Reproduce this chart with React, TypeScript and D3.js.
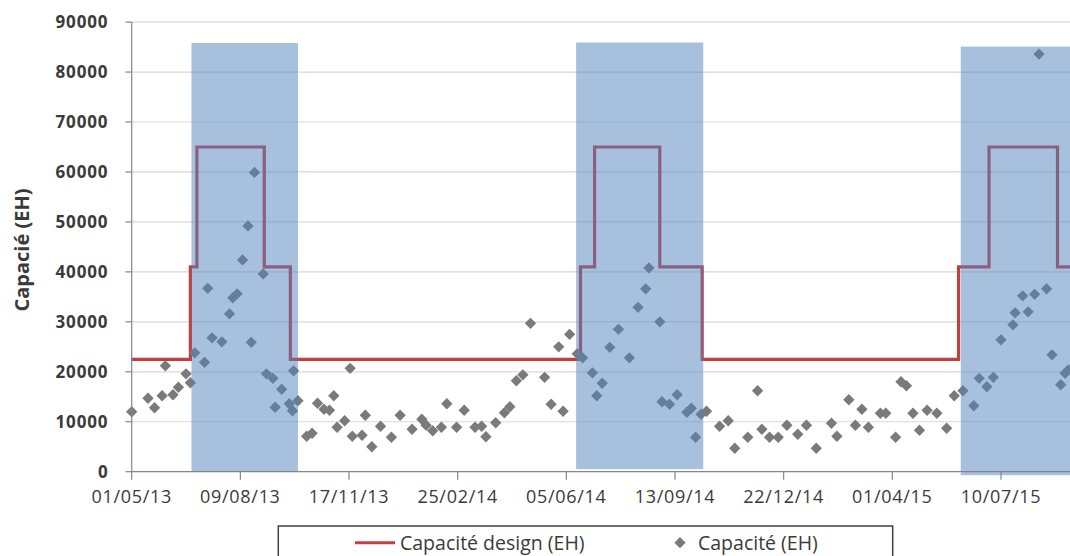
import React from "react";
import * as d3 from "d3";

// Scatter: "Capacité (EH)"
const scatterDates = [
  "2013-05-01","2013-05-16","2013-05-22","2013-05-29","2013-06-01","2013-06-08","2013-06-13","2013-06-20","2013-06-24",
  "2013-06-28","2013-07-07","2013-07-10","2013-07-14","2013-07-23","2013-07-30","2013-08-02","2013-08-06","2013-08-11",
  "2013-08-16","2013-08-22","2013-08-19","2013-08-30","2013-09-02","2013-09-08","2013-09-16","2013-09-10","2013-09-23",
  "2013-09-26","2013-09-27","2013-10-01","2013-10-09","2013-10-14","2013-10-19","2013-10-25","2013-10-30","2013-11-03",
  "2013-11-06","2013-11-13","2013-11-18","2013-11-20","2013-11-29","2013-12-02","2013-12-08","2013-12-16","2013-12-26",
  "2014-01-03","2014-01-14","2014-01-23","2014-01-27","2014-02-02","2014-02-10","2014-02-15","2014-02-24","2014-03-03",
  "2014-03-13","2014-03-19","2014-03-23","2014-04-01","2014-04-09","2014-04-14","2014-04-20","2014-04-26","2014-05-03",
  "2014-05-16","2014-05-22","2014-05-29","2014-06-02","2014-06-08","2014-06-15","2014-06-20","2014-06-29","2014-07-03",
  "2014-07-08","2014-07-15","2014-07-23","2014-08-02","2014-08-10","2014-08-17","2014-08-20","2014-08-30","2014-09-01",
  "2014-09-08","2014-09-15","2014-09-24","2014-09-28","2014-10-02","2014-10-07","2014-10-12","2014-10-24","2014-11-01",
  "2014-11-07","2014-11-19","2014-11-28","2014-12-02","2014-12-09","2014-12-17","2014-12-25","2015-01-04","2015-01-12",
  "2015-01-21","2015-02-04","2015-02-09","2015-02-20","2015-02-26","2015-03-04","2015-03-10","2015-03-21","2015-03-26",
  "2015-04-04","2015-04-09","2015-04-14","2015-04-20","2015-04-26","2015-05-03","2015-05-12","2015-05-21","2015-05-28",
  "2015-06-05","2015-06-15","2015-06-20","2015-06-27","2015-07-03","2015-07-10","2015-07-21","2015-07-23","2015-07-30",
  "2015-08-04","2015-08-10","2015-08-14","2015-08-21","2015-08-26","2015-09-03","2015-09-07","2015-09-10",
];
const scatterValues = [
  12000,14700,12800,15200,21200,15400,16900,19600,17800,
  23800,21900,36700,26800,26000,31600,34800,35600,42400,
  49200,59900,25900,39600,19600,18700,16500,12900,13600,
  12200,20200,14200,7100,7700,13700,12500,12300,15200,
  8900,10200,20700,7100,7300,11300,5000,9100,6900,
  11300,8500,10500,9300,8200,8900,13600,8900,12300,
  8900,9100,7000,9800,11800,13000,18200,19400,29700,
  18900,13500,25000,12100,27500,23600,22800,19800,15200,
  17700,24900,28500,22800,32900,36600,40800,30000,14000,
  13500,15400,11900,12700,6900,11500,12100,9100,10200,
  4700,6900,16200,8500,6900,6900,9300,7500,9300,
  4700,9700,7100,14400,9300,12500,8900,11700,11700,
  6900,18000,17200,11700,8300,12300,11700,8700,15200,
  16200,13200,18700,17000,18900,26400,29400,31800,35200,
  32000,35500,83600,36600,23400,17400,19700,20400,
];

// Step line: "Capacité design (EH)"
const designDates = [
  "2013-05-01","2013-06-24","2013-06-30","2013-08-31","2013-09-24","2014-06-18","2014-07-01",
  "2014-08-30","2014-10-08","2015-06-01","2015-06-29","2015-08-31","2015-09-13",
];
const designValues = [22500,41000,65000,41000,22500,41000,65000,41000,22500,41000,65000,41000,41000];

// Shaded periods
const bandStarts = ["2013-06-25","2014-06-14","2015-06-03"];
const bandEnds = ["2013-10-01","2014-10-09","2015-09-20"];
const bandTops = [85800,85900,85100];
const bandBottoms = [0,500,-700];

const xTickDates = ["2013-05-01","2013-08-09","2013-11-17","2014-02-25","2014-06-05","2014-09-13","2014-12-22","2015-04-01","2015-07-10"];
const yTicks = [0,10000,20000,30000,40000,50000,60000,70000,80000,90000];

const yTitle = "Capacié (EH)";
const legendLine = "Capacité design (EH)";
const legendScatter = "Capacité (EH)";

const parse = d3.utcParse("%Y-%m-%d");
const fmt = d3.utcFormat("%d/%m/%y");

export default function App() {
  const W = 1070, H = 556;
  const x = d3.scaleUtc().domain([parse("2013-05-01")!, parse("2015-09-13")!]).range([131.7, 1071.6]);
  const y = d3.scaleLinear().domain([0, 90000]).range([471.7, 22.1]);

  const design = designDates.map((d, i) => ({ d: parse(d)!, v: designValues[i] }));
  const line = d3.line<{ d: Date; v: number }>().x(p => x(p.d)).y(p => y(p.v)).curve(d3.curveStepAfter);
  const diamond = d3.symbol().type(d3.symbolSquare).size(64)()!;

  const grey = "#7a7a7a";
  const red = "#c33f3f";
  const axisCol = "#868686";
  const textCol = "#3a3a3a";
  const font = "'Open Sans', sans-serif";

  return (
    <svg width={W} height={H} style={{ position: "absolute", left: 0, top: 0, background: "#fff" }} fontFamily={font}>
      <rect x={0} y={0} width={W} height={H} fill="#fff" />
      {/* gridlines */}
      {yTicks.filter(t => t > 0).map(t => (
        <line key={"g" + t} x1={131.7} x2={W} y1={y(t)} y2={y(t)} stroke="#d9d9d9" strokeWidth={1.2} />
      ))}
      {/* design line */}
      <path d={line(design)!} fill="none" stroke={red} strokeWidth={3.2} />
      {/* scatter */}
      {scatterDates.map((d, i) => (
        <path key={"p" + i} d={diamond} transform={`translate(${x(parse(d)!)},${y(scatterValues[i])}) rotate(45)`} fill={grey} />
      ))}
      {/* bands */}
      {bandStarts.map((s, i) => (
        <rect key={"b" + i} x={x(parse(s)!)} width={x(parse(bandEnds[i])!) - x(parse(s)!)}
          y={y(bandTops[i])} height={y(bandBottoms[i]) - y(bandTops[i])} fill="#4f81bd" fillOpacity={0.5} />
      ))}
      {/* axes */}
      <line x1={131.7} x2={131.7} y1={y(90000)} y2={y(0)} stroke={axisCol} strokeWidth={1.2} />
      <line x1={131.7} x2={W} y1={y(0)} y2={y(0)} stroke={axisCol} strokeWidth={1.2} />
      {yTicks.map(t => (
        <g key={"y" + t}>
          <line x1={125.5} x2={131.7} y1={y(t)} y2={y(t)} stroke={axisCol} strokeWidth={1.2} />
          <text x={108.5} y={y(t)} dy="0.36em" textAnchor="end" fontSize={17} fontWeight="bold" fill={textCol} letterSpacing={0.9}>{t}</text>
        </g>
      ))}
      {xTickDates.map(t => {
        const px = x(parse(t)!);
        return (
          <g key={"x" + t}>
            <line x1={px} x2={px} y1={y(0)} y2={y(0) + 8} stroke={axisCol} strokeWidth={1.2} />
            <text x={px} y={503} textAnchor="middle" fontSize={18} fill={textCol} letterSpacing={0.7}>{fmt(parse(t)!)}</text>
          </g>
        );
      })}
      <text transform="translate(29,250) rotate(-90)" textAnchor="middle" fontSize={20} fontWeight="bold" fill={textCol}>{yTitle}</text>
      {/* legend */}
      <rect x={278.3} y={526} width={614.4} height={50} fill="#fff" stroke="#404040" strokeWidth={1.5} />
      <line x1={355} x2={395} y1={542.7} y2={542.7} stroke={red} strokeWidth={3} />
      <text x={400} y={542.7} dy="0.36em" fontSize={19.5} fill={textCol}>{legendLine}</text>
      <path d={diamond} transform="translate(680,542.7) rotate(45)" fill={grey} />
      <text x={698} y={542.7} dy="0.36em" fontSize={19.5} fill={textCol}>{legendScatter}</text>
    </svg>
  );
}
